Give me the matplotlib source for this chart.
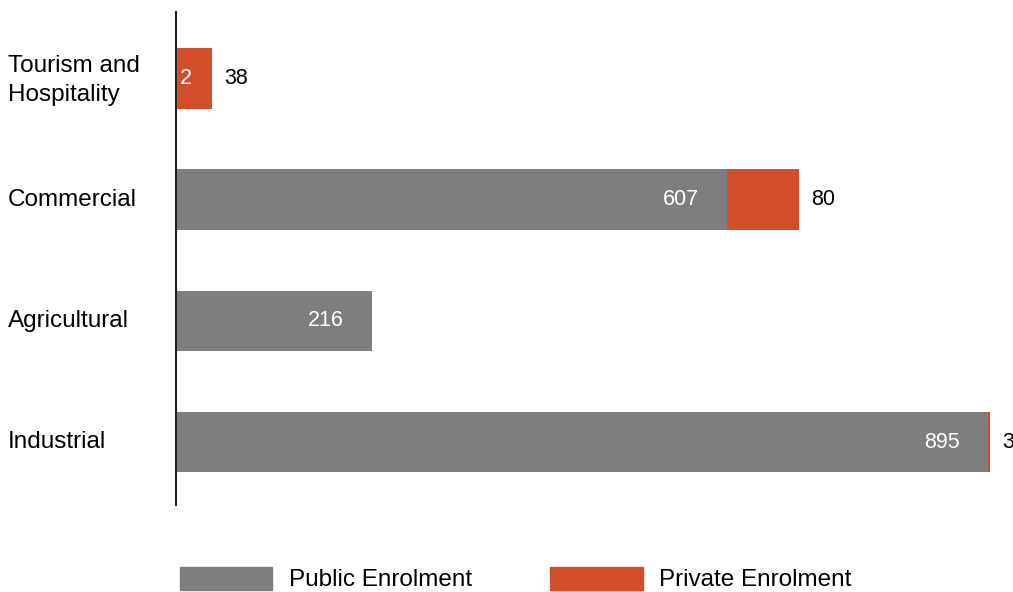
import matplotlib.pyplot as plt
from matplotlib.patches import Patch
from matplotlib.transforms import blended_transform_factory

plt.rcParams['font.family'] = ['Liberation Sans', 'DejaVu Sans']

categories = ['Tourism and\nHospitality', 'Commercial', 'Agricultural', 'Industrial']
public = [2, 607, 216, 895]
private = [38, 80, 0, 3]

grey = '#7e7f7d'
orange = '#d24e28'

W, H = 1013, 592
fig = plt.figure(figsize=(W / 100, H / 100), dpi=100)

# axis area in pixels: left spine at x=176, from y=12 to y=505
left, top, bottom = 176, 12, 505
ax = fig.add_axes([left / W, 1 - bottom / H, (W - left) / W, (bottom - top) / H])

px_per_unit = 0.907
ax.set_xlim(0, (W - left) / px_per_unit)
ax.set_ylim(3.52, -0.55)

ys = list(range(len(categories)))
ax.barh(ys, public, height=0.5, color=grey)
ax.barh(ys, private, left=public, height=0.5, color=orange)

for y, pu, pr in zip(ys, public, private):
    # public label inside the grey bar, near its end
    if pu * px_per_unit > 60:
        ax.text(pu - 46 / px_per_unit, y, str(pu), color='white', fontsize=15.5,
                ha='center', va='center')
    else:
        ax.text(4 / px_per_unit, y, str(pu), color='white', fontsize=15.5,
                ha='left', va='center')
    if pr > 0:
        ax.text(pu + pr + 12 / px_per_unit, y, str(pr), color='black', fontsize=15.5,
                ha='left', va='center')

trans = blended_transform_factory(fig.transFigure, ax.transData)
for y, c in zip(ys, categories):
    dy = 0.018 if '\n' in c else 0
    ax.text(8 / W, y + dy, c, transform=trans, fontsize=17.5, ha='left', va='center',
            linespacing=1.4)

for s in ['top', 'right', 'bottom']:
    ax.spines[s].set_visible(False)
ax.spines['left'].set_linewidth(1.5)
ax.spines['left'].set_color('#222222')
ax.set_xticks([])
ax.set_yticks([])

handles = [Patch(color=grey, label='Public Enrolment'),
           Patch(color=orange, label='Private Enrolment')]
fig.legend(handles=handles, loc='center left', bbox_to_anchor=(180 / W, 13 / H),
           ncol=2, frameon=False, fontsize=17.5, handlelength=3.8, handleheight=1.1,
           handletextpad=0.68, columnspacing=3.22, borderpad=0, borderaxespad=0)

fig.savefig('out.png', dpi=100)
